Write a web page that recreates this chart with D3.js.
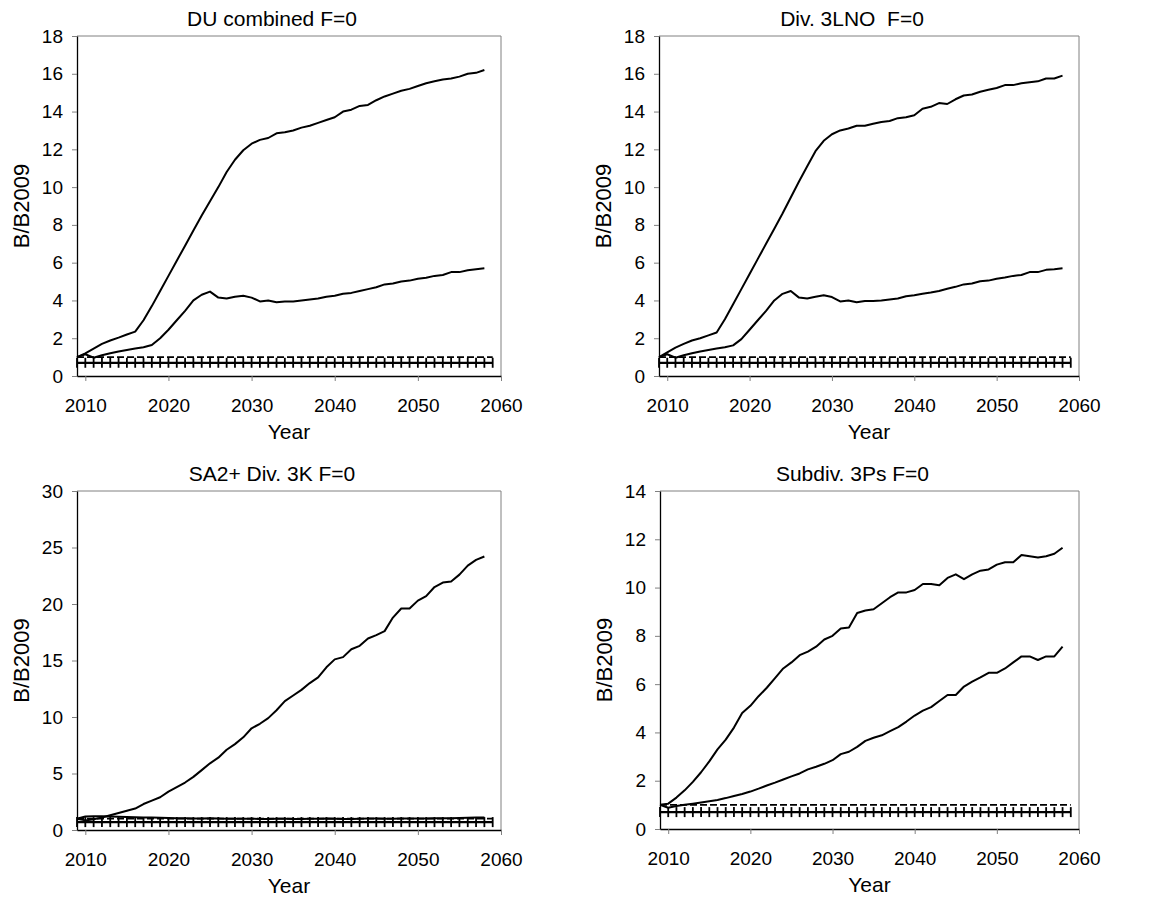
<!DOCTYPE html>
<html>
<head>
<meta charset="utf-8">
<script src="https://cdn.jsdelivr.net/npm/d3@7"></script>
<style>
  body { margin: 0; background: #fff; }
  svg { font-family: "Liberation Sans", Arial, sans-serif; }
</style>
</head>
<body>
<div id="chart"></div>
<script>
//Años de la proyección
const years = [2009, 2010, 2011, 2012, 2013, 2014, 2015, 2016, 2017, 2018,
  2019, 2020, 2021, 2022, 2023, 2024, 2025, 2026, 2027, 2028,
  2029, 2030, 2031, 2032, 2033, 2034, 2035, 2036, 2037, 2038,
  2039, 2040, 2041, 2042, 2043, 2044, 2045, 2046, 2047, 2048,
  2049, 2050, 2051, 2052, 2053, 2054, 2055, 2056, 2057, 2058];
const refYears = years.concat([2059]);

//Ticks
const xTicks = [2010, 2020, 2030, 2040, 2050, 2060];
const yTicks18 = [0, 2, 4, 6, 8, 10, 12, 14, 16, 18];
const yTicks30 = [0, 5, 10, 15, 20, 25, 30];
const yTicks14 = [0, 2, 4, 6, 8, 10, 12, 14];

//Líneas de referencia
const B_REF = 1.0, B_LIM = 0.7;

//DU combined
const duUpper = [1.0, 1.2, 1.45, 1.7, 1.88, 2.03, 2.2, 2.35, 2.95, 3.7,
  4.5, 5.3, 6.1, 6.9, 7.7, 8.5, 9.25, 10.0, 10.8, 11.45,
  11.95, 12.3, 12.5, 12.6, 12.85, 12.9, 13.0, 13.15, 13.25, 13.4,
  13.55, 13.7, 14.0, 14.1, 14.3, 14.35, 14.6, 14.8, 14.95, 15.1,
  15.2, 15.35, 15.5, 15.6, 15.7, 15.75, 15.85, 16.0, 16.05, 16.2];
const duLower = [1.0, 1.15, 0.97, 1.1, 1.2, 1.3, 1.38, 1.45, 1.52, 1.64,
  2.0, 2.45, 2.95, 3.45, 4.0, 4.3, 4.47, 4.15, 4.1, 4.2,
  4.25, 4.15, 3.95, 4.0, 3.9, 3.95, 3.95, 4.0, 4.05, 4.1,
  4.2, 4.25, 4.35, 4.4, 4.5, 4.6, 4.7, 4.85, 4.9, 5.0,
  5.05, 5.15, 5.2, 5.3, 5.35, 5.5, 5.5, 5.6, 5.65, 5.7];

//Div. 3LNO
const lnoUpper = [1.0, 1.25, 1.5, 1.7, 1.88, 2.0, 2.15, 2.3, 3.0, 3.8,
  4.6, 5.4, 6.2, 7.0, 7.8, 8.6, 9.45, 10.3, 11.1, 11.9,
  12.45, 12.8, 13.0, 13.1, 13.25, 13.25, 13.35, 13.45, 13.5, 13.65,
  13.7, 13.8, 14.15, 14.25, 14.45, 14.4, 14.65, 14.85, 14.9, 15.05,
  15.15, 15.25, 15.4, 15.4, 15.5, 15.55, 15.6, 15.75, 15.75, 15.9];
const lnoLower = [1.0, 1.15, 0.97, 1.1, 1.2, 1.3, 1.38, 1.45, 1.52, 1.62,
  1.95, 2.45, 2.95, 3.45, 4.0, 4.35, 4.5, 4.15, 4.1, 4.2,
  4.27, 4.18, 3.95, 4.0, 3.9, 3.97, 3.97, 4.0, 4.05, 4.1,
  4.22, 4.27, 4.35, 4.42, 4.5, 4.62, 4.72, 4.85, 4.9, 5.02,
  5.05, 5.15, 5.22, 5.3, 5.35, 5.5, 5.5, 5.62, 5.65, 5.7];

//SA2+ Div. 3K
const sa2Upper = [1.0, 0.85, 0.95, 1.1, 1.3, 1.5, 1.7, 1.9, 2.3, 2.6,
  2.9, 3.4, 3.8, 4.2, 4.7, 5.3, 5.9, 6.4, 7.1, 7.6,
  8.2, 9.0, 9.4, 9.9, 10.6, 11.4, 11.9, 12.4, 13.0, 13.5,
  14.4, 15.1, 15.3, 16.0, 16.3, 16.95, 17.25, 17.6, 18.8, 19.6,
  19.6, 20.3, 20.7, 21.5, 21.9, 22.0, 22.6, 23.4, 23.9, 24.2];
const sa2Lower = [1.0, 1.2, 1.22, 1.22, 1.2, 1.18, 1.15, 1.13, 1.11, 1.1,
  1.08, 1.06, 1.05, 1.03, 1.02, 1.02, 1.03, 1.01, 1.0, 1.0,
  1.0, 0.99, 0.98, 0.98, 0.99, 0.99, 0.98, 0.98, 0.99, 1.0,
  1.01, 0.99, 0.98, 0.98, 1.0, 1.02, 1.01, 1.0, 1.0, 1.01,
  1.01, 1.02, 1.02, 1.03, 1.04, 1.05, 1.06, 1.08, 1.1, 1.1];

//Subdiv. 3Ps
const psUpper = [1.0, 1.05, 1.3, 1.6, 1.95, 2.35, 2.8, 3.3, 3.7, 4.2,
  4.8, 5.1, 5.5, 5.85, 6.25, 6.65, 6.9, 7.2, 7.35, 7.55,
  7.85, 8.0, 8.3, 8.35, 8.95, 9.05, 9.1, 9.35, 9.6, 9.8,
  9.8, 9.9, 10.15, 10.15, 10.1, 10.4, 10.55, 10.35, 10.55, 10.7,
  10.75, 10.95, 11.05, 11.05, 11.35, 11.3, 11.25, 11.3, 11.4, 11.65];
const psLower = [1.0, 0.88, 0.95, 1.0, 1.05, 1.1, 1.15, 1.2, 1.28, 1.37,
  1.45, 1.55, 1.67, 1.8, 1.92, 2.05, 2.18, 2.3, 2.47, 2.58,
  2.7, 2.85, 3.1, 3.2, 3.4, 3.65, 3.78, 3.88, 4.05, 4.22,
  4.45, 4.7, 4.9, 5.05, 5.3, 5.55, 5.55, 5.9, 6.1, 6.28,
  6.47, 6.47, 6.65, 6.9, 7.15, 7.15, 7.0, 7.15, 7.15, 7.55];

let panels = [
  { title: 'DU combined F=0', upper: duUpper, lower: duLower, yTicks: yTicks18, left: 77, right: 501, top: 36, bottom: 376 },
  { title: 'Div. 3LNO  F=0', upper: lnoUpper, lower: lnoLower, yTicks: yTicks18, left: 659, right: 1079, top: 36, bottom: 376 },
  { title: 'SA2+ Div. 3K F=0', upper: sa2Upper, lower: sa2Lower, yTicks: yTicks30, left: 77, right: 501, top: 491, bottom: 830 },
  { title: 'Subdiv. 3Ps F=0', upper: psUpper, lower: psLower, yTicks: yTicks14, left: 660, right: 1079, top: 491, bottom: 829 }
];

let svg = d3.select('#chart')
  .append('svg')
    .attr('width', 1167)
    .attr('height', 907);

svg.append('rect')
  .attr('width', 1167)
  .attr('height', 907)
  .attr('fill', '#fff');

panels.forEach(function(p) {
  let g = svg.append('g');

  let x = d3.scaleLinear()
    .domain([2009, 2060])
    .range([p.left, p.right]);

  let y = d3.scaleLinear()
    .domain([0, p.yTicks[p.yTicks.length - 1]])
    .range([p.bottom, p.top]);

  //Marco gris arriba y a la derecha
  g.append('path')
    .attr('d', 'M' + p.left + ',' + p.top + 'H' + p.right + 'V' + p.bottom)
    .attr('fill', 'none')
    .attr('stroke', '#808080')
    .attr('stroke-width', 1);

  //Ejes
  let xAxis = g.append('g')
    .attr('transform', 'translate(0,' + p.bottom + ')')
    .call(d3.axisBottom(x).tickValues(xTicks).tickFormat(d3.format('d')).tickSize(5).tickSizeOuter(0).tickPadding(18));

  let yAxis = g.append('g')
    .attr('transform', 'translate(' + p.left + ',0)')
    .call(d3.axisLeft(y).tickValues(p.yTicks).tickSize(5).tickSizeOuter(0).tickPadding(9));

  [xAxis, yAxis].forEach(function(a) {
    a.select('.domain').attr('stroke', '#000').attr('stroke-width', 1.3);
    a.selectAll('.tick line').attr('stroke', '#808080');
    a.selectAll('.tick text')
      .attr('fill', '#000')
      .style('font-size', '19px')
      .style('font-family', '"Liberation Sans", Arial, sans-serif');
  });

  //Línea discontinua en B/B2009 = 1
  g.append('path')
    .datum(refYears)
    .attr('fill', 'none')
    .attr('stroke', '#000')
    .attr('stroke-width', 1.8)
    .attr('stroke-dasharray', '7,3')
    .attr('d', d3.line()
      .x(function(d) { return x(d); })
      .y(function(d) { return y(B_REF); }));

  //Línea con cruces
  g.append('path')
    .datum(refYears)
    .attr('fill', 'none')
    .attr('stroke', '#000')
    .attr('stroke-width', 2.2)
    .attr('d', d3.line()
      .x(function(d) { return x(d); })
      .y(function(d) { return y(B_LIM); }));

  g.selectAll('.cross')
    .data(refYears)
    .enter()
    .append('line')
    .attr('class', 'cross')
    .attr('x1', function(d) { return x(d); })
    .attr('x2', function(d) { return x(d); })
    .attr('y1', function(d) { return y(B_LIM) - 5; })
    .attr('y2', function(d) { return y(B_LIM) + 5; })
    .attr('stroke', '#000')
    .attr('stroke-width', 1.8);

  //Curvas
  [p.lower, p.upper].forEach(function(serie) {
    g.append('path')
      .datum(serie)
      .attr('fill', 'none')
      .attr('stroke', '#000')
      .attr('stroke-width', 2)
      .attr('stroke-linejoin', 'round')
      .attr('d', d3.line()
        .x(function(d, i) { return x(years[i]); })
        .y(function(d) { return y(d); }));
  });

  //Textos
  g.append('text')
    .attr('x', (p.left + p.right) / 2 - 17)
    .attr('y', p.top - 10)
    .attr('text-anchor', 'middle')
    .style('font-size', '21px')
    .style('white-space', 'pre')
    .text(p.title);

  g.append('text')
    .attr('x', (p.left + p.right) / 2)
    .attr('y', p.bottom + 63)
    .attr('text-anchor', 'middle')
    .style('font-size', '21px')
    .text('Year');

  g.append('text')
    .attr('transform', 'translate(' + (p.left - 48) + ',' + ((p.top + p.bottom) / 2) + ') rotate(-90)')
    .attr('text-anchor', 'middle')
    .style('font-size', '22px')
    .text('B/B2009');
});
</script>
</body>
</html>
